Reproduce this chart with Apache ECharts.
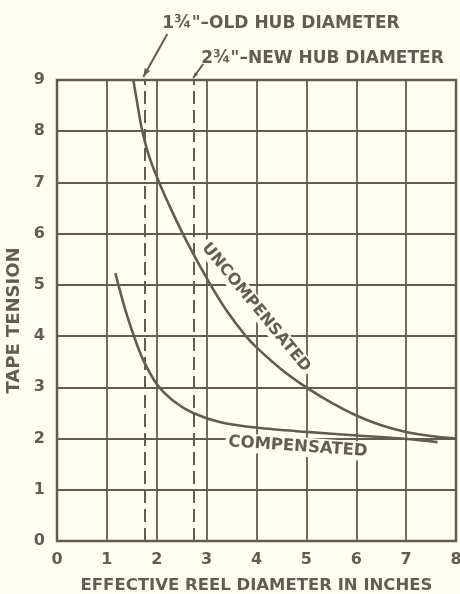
<!DOCTYPE html>
<html>
<head>
<meta charset="utf-8">
<script src="https://cdn.jsdelivr.net/npm/echarts@6/dist/echarts.min.js"></script>
<style>
  html, body { margin: 0; padding: 0; background: #fefef1; }
  #chart { width: 460px; height: 594px; }
</style>
</head>
<body>
<div id="chart"></div>
<script>
// Tape tension vs. effective reel diameter
const uncompensatedX = [1.53, 1.6, 1.7, 1.85, 2.07, 2.3, 2.6, 3.05, 3.4, 3.77, 4.0, 4.5, 5.0, 5.5, 6.0, 6.5, 7.0, 7.5, 8.0];
const uncompensatedY = [9.0, 8.6, 8.05, 7.5, 6.95, 6.45, 5.85, 5.05, 4.5, 4.02, 3.78, 3.35, 3.0, 2.7, 2.45, 2.26, 2.13, 2.05, 2.0];
const compensatedX = [1.17, 1.37, 1.55, 1.73, 2.01, 2.33, 2.73, 3.28, 4.02, 5.0, 6.02, 7.03, 7.63];
const compensatedY = [5.23, 4.51, 3.98, 3.53, 3.05, 2.74, 2.5, 2.32, 2.21, 2.13, 2.06, 1.99, 1.93];
const hubDiameters = [1.75, 2.75];
const hubLabels = ['1\u00BE"\u2013OLD HUB DIAMETER', '2\u00BE"\u2013NEW HUB DIAMETER'];
const curveLabels = ['UNCOMPENSATED', 'COMPENSATED'];
const xTitle = 'EFFECTIVE REEL DIAMETER IN INCHES';
const yTitle = 'TAPE TENSION';

const ink = '#625d50';
const paper = '#fefef1';
const fontFamily = '"DejaVu Sans", sans-serif';

const zip = (xs, ys) => xs.map((x, i) => [x, ys[i]]);

const chart = echarts.init(document.getElementById('chart'), null, { renderer: 'canvas' });

const axisText = { color: ink, fontSize: 16, fontWeight: 'bold', fontFamily };

chart.setOption({
  backgroundColor: paper,
  animation: false,
  grid: {
    left: 57, right: 4, top: 80, bottom: 53,
    outerBoundsMode: 'none', containLabel: false,
    show: true, borderColor: ink, borderWidth: 2.5, backgroundColor: 'transparent'
  },
  xAxis: {
    type: 'value', min: 0, max: 8, interval: 1,
    axisLine: { show: false }, axisTick: { show: false },
    splitLine: { show: true, lineStyle: { color: ink, width: 1.8 } },
    axisLabel: Object.assign({ margin: 11 }, axisText),
    name: xTitle, nameLocation: 'middle', nameGap: 36,
    nameTextStyle: Object.assign({}, axisText, { fontSize: 16.5 })
  },
  yAxis: {
    type: 'value', min: 0, max: 9, interval: 1,
    axisLine: { show: false }, axisTick: { show: false },
    splitLine: { show: true, lineStyle: { color: ink, width: 1.8 } },
    axisLabel: Object.assign({ margin: 12 }, axisText),
    name: yTitle, nameLocation: 'middle', nameGap: 33,
    nameTextStyle: Object.assign({}, axisText, { fontSize: 18, padding: [0, 20, 0, 0] })
  },
  series: [
    {
      name: curveLabels[0], type: 'line', data: zip(uncompensatedX, uncompensatedY),
      smooth: 0.3, showSymbol: false,
      lineStyle: { color: ink, width: 2.6 }, z: 3,
      markLine: {
        silent: true, symbol: 'none', label: { show: false },
        lineStyle: { color: ink, width: 2, type: [13, 6] },
        data: hubDiameters.map(v => ({ xAxis: v }))
      }
    },
    {
      name: curveLabels[1], type: 'line', data: zip(compensatedX, compensatedY),
      smooth: 0.3, showSymbol: false,
      lineStyle: { color: ink, width: 2.6 }, z: 3
    }
  ]
});

// Annotations placed from data coordinates
function px(x, y) { return chart.convertToPixel({ gridIndex: 0 }, [x, y]); }

function arrow(from, to, head) {
  const ang = Math.atan2(to[1] - from[1], to[0] - from[0]);
  const a1 = ang + Math.PI - 0.35, a2 = ang + Math.PI + 0.35;
  return [
    { type: 'line', z: 100, shape: { x1: from[0], y1: from[1], x2: to[0], y2: to[1] },
      style: { stroke: ink, lineWidth: 2 } },
    { type: 'polygon', z: 100, shape: { points: [
        to,
        [to[0] + head * Math.cos(a1), to[1] + head * Math.sin(a1)],
        [to[0] + head * Math.cos(a2), to[1] + head * Math.sin(a2)]
      ] }, style: { fill: ink } }
  ];
}

// rotDeg: negative turns the text clockwise (reading downhill)
function label(text, x, y, rotDeg, align, bg, size) {
  return {
    type: 'text', z: 100, x, y, rotation: rotDeg * Math.PI / 180,
    style: {
      text, fill: ink, font: 'bold ' + size + 'px ' + fontFamily,
      textAlign: align, textVerticalAlign: 'middle', align, verticalAlign: 'middle',
      backgroundColor: bg ? paper : null, padding: bg ? [1, 3] : 0
    }
  };
}

const top1 = px(hubDiameters[0], 9);
const top2 = px(hubDiameters[1], 9);
const start1 = [top1[0] + 23, top1[1] - 46];
const start2 = [top2[0] + 9, top2[1] - 16];

const uncPos = px(3.99, 4.56);
const compPos = px(4.83, 1.84);

chart.setOption({
  graphic: [
    ...arrow(start1, [top1[0] - 1, top1[1] - 3], 9),
    ...arrow(start2, [top2[0] - 1, top2[1] - 2], 6),
    label(hubLabels[0], start1[0] - 5, start1[1] - 10, 0, 'left', false, 17),
    label(hubLabels[1], start2[0] - 2, start2[1] - 5, 0, 'left', false, 17),
    label(curveLabels[0], uncPos[0], uncPos[1], -50.6, 'center', true, 16),
    label(curveLabels[1], compPos[0], compPos[1], -4, 'center', true, 16.5)
  ]
});
</script>
</body>
</html>
